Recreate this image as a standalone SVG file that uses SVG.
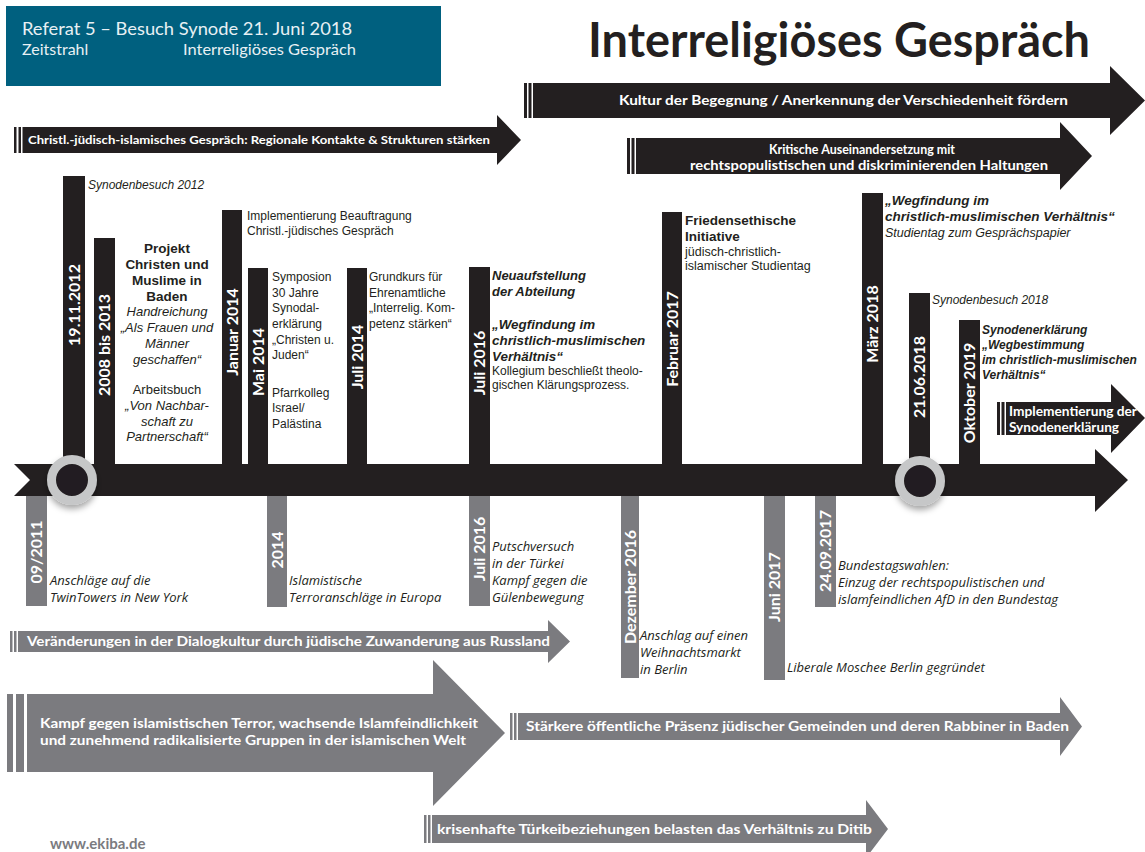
<svg xmlns="http://www.w3.org/2000/svg" width="1145" height="852" viewBox="0 0 1145 852">
<defs>
<style>
.blk{fill:#231f20}
.gry{fill:#7b7b7f}
.hum{font-family:Lato,"Open Sans",sans-serif}
.wb{font-family:Lato,"Open Sans",sans-serif;font-weight:700;fill:#fff}
.bl{font-family:Lato,"Open Sans",sans-serif;font-weight:700;fill:#fff;font-size:16px;text-anchor:middle}
.tx{font-family:"Liberation Sans",Arial,sans-serif;font-size:12px;fill:#231f20}
.ev{font-family:"Open Sans",Lato,sans-serif;font-style:italic;font-size:13px;fill:#231f20}
.i{font-style:italic}
.b{font-weight:700}
.mid{text-anchor:middle}
</style>
<filter id="sh" x="-50%" y="-50%" width="200%" height="200%">
<feDropShadow dx="0" dy="4" stdDeviation="3" flood-color="#000" flood-opacity="0.35"/>
</filter>
</defs>
<rect width="1145" height="852" fill="#fff"/>

<g id="header">
<rect x="6" y="6" width="435" height="80" fill="#00607f"/>
<text class="hum" x="22" y="35" font-size="18" fill="#e8f0f4" textLength="330" lengthAdjust="spacingAndGlyphs">Referat 5 – Besuch Synode 21. Juni 2018</text>
<text class="hum" x="22" y="55" font-size="16" fill="#e8f0f4">Zeitstrahl</text>
<text class="hum" x="183" y="55" font-size="16" fill="#e8f0f4" textLength="173" lengthAdjust="spacingAndGlyphs">Interreligiöses Gespräch</text>
</g>
<g id="title">
<text class="hum" x="588" y="57" font-size="48" font-weight="700" fill="#231f20" textLength="502" lengthAdjust="spacingAndGlyphs">Interreligiöses Gespräch</text>
</g>

<g id="connectors">
<path class="blk" d="M14 464 H1095 V449 L1128 480 L1095 512 V496 H14 L30 480 Z"/>
</g>

<g id="arrow-christl">
<rect class="blk" x="14" y="127" width="2.5" height="26"/>
<rect class="blk" x="18.5" y="127" width="2.5" height="26"/>
<path class="blk" d="M22.5 127 H497 V115 L521 140 L497 165 V153 H22.5 Z"/>
<text class="wb" x="28" y="144" font-size="12" textLength="462" lengthAdjust="spacingAndGlyphs">Christl.-jüdisch-islamisches Gespräch: Regionale Kontakte &amp; Strukturen stärken</text>
</g>
<g id="arrow-kultur">
<rect class="blk" x="524" y="83" width="3" height="35"/>
<rect class="blk" x="528.5" y="83" width="3" height="35"/>
<path class="blk" d="M533 83 H1110 V66 L1145 100.5 L1110 135 V118 H533 Z"/>
<text class="wb" x="619" y="105" font-size="13" textLength="449" lengthAdjust="spacingAndGlyphs">Kultur der Begegnung / Anerkennung der Verschiedenheit fördern</text>
</g>
<g id="arrow-kritisch">
<rect class="blk" x="627" y="138" width="3" height="36"/>
<rect class="blk" x="631.5" y="138" width="3" height="36"/>
<path class="blk" d="M636 138 H1060 V122 L1092 156 L1060 190 V174 H636 Z"/>
<text class="wb" x="862" y="154" font-size="13" text-anchor="middle" textLength="186" lengthAdjust="spacingAndGlyphs">Kritische Auseinandersetzung mit</text>
<text class="wb" x="869" y="170" font-size="13" text-anchor="middle" textLength="358" lengthAdjust="spacingAndGlyphs">rechtspopulistischen und diskriminierenden Haltungen</text>
</g>
<g id="arrow-implementierung">
<rect class="blk" x="997" y="402" width="3" height="33"/>
<rect class="blk" x="1001.5" y="402" width="3" height="33"/>
<path class="blk" d="M1006 402 H1111 V384 L1145 418 L1111 453 V435 H1006 Z"/>
<text class="wb" x="1009" y="416" font-size="13" textLength="128" lengthAdjust="spacingAndGlyphs">Implementierung der</text>
<text class="wb" x="1009" y="432" font-size="13" textLength="110" lengthAdjust="spacingAndGlyphs">Synodenerklärung</text>
</g>

<g id="n-2012">
<rect class="blk" x="63" y="176" width="22" height="290"/>
<text class="bl" transform="translate(80 305) rotate(-90)">19.11.2012</text>
<text class="tx i" x="88" y="189" font-size="13.5">Synodenbesuch 2012</text>
</g>
<g id="n-2008">
<rect class="blk" x="94" y="238" width="21" height="228"/>
<text class="bl" transform="translate(110 345) rotate(-90)">2008 bis 2013</text>
<g class="tx mid">
<text x="167" y="253" class="b" font-size="13.5">Projekt</text>
<text x="167" y="269" class="b" font-size="13.5">Christen und</text>
<text x="167" y="285" class="b" font-size="13.5">Muslime in</text>
<text x="167" y="301" class="b" font-size="13.5">Baden</text>
<text x="167" y="316" class="i" font-size="13">Handreichung</text>
<text x="167" y="332" class="i" font-size="13">„Als Frauen und</text>
<text x="167" y="348" class="i" font-size="13">Männer</text>
<text x="167" y="364" class="i" font-size="13">geschaffen“</text>
<text x="167" y="394" font-size="13">Arbeitsbuch</text>
<text x="167" y="410" class="i" font-size="13">„Von Nachbar-</text>
<text x="167" y="426" class="i" font-size="13">schaft zu</text>
<text x="167" y="441" class="i" font-size="13">Partnerschaft“</text>
</g>
</g>
<g id="n-jan2014">
<rect class="blk" x="222" y="210" width="20" height="256"/>
<text class="bl" transform="translate(238 332) rotate(-90)">Januar 2014</text>
<text class="tx" x="247" y="220">Implementierung Beauftragung</text>
<text class="tx" x="247" y="235">Christl.-jüdisches Gespräch</text>
</g>
<g id="n-mai2014">
<rect class="blk" x="248" y="268" width="20" height="198"/>
<text class="bl" transform="translate(264 362) rotate(-90)">Mai 2014</text>
<g class="tx" font-size="12.5">
<text x="272" y="281">Symposion</text>
<text x="272" y="297">30 Jahre</text>
<text x="272" y="312">Synodal-</text>
<text x="272" y="328">erklärung</text>
<text x="272" y="344">„Christen u.</text>
<text x="272" y="359">Juden“</text>
<text x="272" y="397">Pfarrkolleg</text>
<text x="272" y="412">Israel/</text>
<text x="272" y="428">Palästina</text>
</g>
</g>
<g id="n-juli2014">
<rect class="blk" x="347" y="268" width="20" height="198"/>
<text class="bl" transform="translate(363 357) rotate(-90)">Juli 2014</text>
<g class="tx" font-size="12.5">
<text x="369" y="281">Grundkurs für</text>
<text x="369" y="297">Ehrenamtliche</text>
<text x="369" y="312">„Interrelig. Kom-</text>
<text x="369" y="328">petenz stärken“</text>
</g>
</g>
<g id="n-juli2016">
<rect class="blk" x="469" y="267" width="21" height="199"/>
<text class="bl" transform="translate(485 363) rotate(-90)">Juli 2016</text>
<g class="tx">
<text x="492" y="280" class="b i" font-size="13">Neuaufstellung</text>
<text x="492" y="296" class="b i" font-size="13">der Abteilung</text>
<text x="492" y="329" class="b i" font-size="13.4">„Wegfindung im</text>
<text x="492" y="345" class="b i" font-size="13.4">christlich-muslimischen</text>
<text x="492" y="361" class="b i" font-size="13.4">Verhältnis“</text>
<text x="492" y="375">Kollegium beschließt theolo-</text>
<text x="492" y="389">gischen Klärungsprozess.</text>
</g>
</g>
<g id="n-feb2017">
<rect class="blk" x="662" y="212" width="20" height="254"/>
<text class="bl" transform="translate(678 339) rotate(-90)">Februar 2017</text>
<g class="tx">
<text x="685" y="225" class="b" font-size="13.5">Friedensethische</text>
<text x="685" y="241" class="b" font-size="13.5">Initiative</text>
<text x="685" y="256" font-size="12.5">jüdisch-christlich-</text>
<text x="685" y="270" font-size="12.5">islamischer Studientag</text>
</g>
</g>
<g id="n-maerz2018">
<rect class="blk" x="862" y="193" width="21" height="273"/>
<text class="bl" transform="translate(878 324) rotate(-90)">März 2018</text>
<g class="tx">
<text x="885" y="205" class="b i" font-size="13.5">„Wegfindung im</text>
<text x="885" y="221" class="b i" font-size="13.5">christlich-muslimischen Verhältnis“</text>
<text x="885" y="237" class="i" font-size="12.5">Studientag zum Gesprächspapier</text>
</g>
</g>
<g id="n-2018">
<rect class="blk" x="909" y="293" width="21" height="173"/>
<text class="bl" transform="translate(925 377) rotate(-90)">21.06.2018</text>
<text class="tx i" x="932" y="304" font-size="13.5">Synodenbesuch 2018</text>
</g>
<g id="n-okt2019">
<rect class="blk" x="959" y="320" width="21" height="146"/>
<text class="bl" transform="translate(975 393) rotate(-90)">Oktober 2019</text>
<g class="tx b i" font-size="12.8">
<text x="982" y="334">Synodenerklärung</text>
<text x="982" y="349">„Wegbestimmung</text>
<text x="982" y="364">im christlich-muslimischen</text>
<text x="982" y="379">Verhältnis“</text>
</g>
</g>

<g id="circle-2011" filter="url(#sh)">
<circle cx="72" cy="480" r="20.5" fill="#231f20" stroke="#c6c7c8" stroke-width="9"/>
</g>
<g id="circle-2018" filter="url(#sh)">
<circle cx="920" cy="481" r="20.5" fill="#231f20" stroke="#c6c7c8" stroke-width="9"/>
</g>

<g id="e-092011">
<rect class="gry" x="26" y="496" width="21" height="110"/>
<text class="bl" transform="translate(42 552) rotate(-90)">09/2011</text>
<text class="ev" x="50" y="585">Anschläge auf die</text>
<text class="ev" x="50" y="602">TwinTowers in New York</text>
</g>
<g id="e-2014">
<rect class="gry" x="267" y="496" width="20" height="111"/>
<text class="bl" transform="translate(283 550) rotate(-90)">2014</text>
<text class="ev" x="289" y="585">Islamistische</text>
<text class="ev" x="289" y="602">Terroranschläge in Europa</text>
</g>
<g id="e-juli2016">
<rect class="gry" x="469" y="496" width="21" height="110"/>
<text class="bl" transform="translate(485 549) rotate(-90)">Juli 2016</text>
<text class="ev" x="492" y="551">Putschversuch</text>
<text class="ev" x="492" y="568">in der Türkei</text>
<text class="ev" x="492" y="585">Kampf gegen die</text>
<text class="ev" x="492" y="602">Gülenbewegung</text>
</g>
<g id="e-dez2016">
<rect class="gry" x="621" y="496" width="18" height="182"/>
<text class="bl" transform="translate(636 587) rotate(-90)">Dezember 2016</text>
<text class="ev" x="640" y="640">Anschlag auf einen</text>
<text class="ev" x="640" y="657">Weihnachtsmarkt</text>
<text class="ev" x="640" y="674">in Berlin</text>
</g>
<g id="e-juni2017">
<rect class="gry" x="764" y="496" width="21" height="184"/>
<text class="bl" transform="translate(780 587) rotate(-90)">Juni 2017</text>
<text class="ev" x="787" y="672">Liberale Moschee Berlin gegründet</text>
</g>
<g id="e-092017">
<rect class="gry" x="815" y="496" width="21" height="111"/>
<text class="bl" transform="translate(831 551) rotate(-90)">24.09.2017</text>
<text class="ev" x="838" y="570">Bundestagswahlen:</text>
<text class="ev" x="838" y="587">Einzug der rechtspopulistischen und</text>
<text class="ev" x="838" y="604">islamfeindlichen AfD in den Bundestag</text>
</g>

<g id="arrow-veraenderungen">
<rect class="gry" x="10" y="631" width="2.5" height="21"/>
<rect class="gry" x="14" y="631" width="2.5" height="21"/>
<path class="gry" d="M18 631 H548 V620 L570 641.5 L548 663 V652 H18 Z"/>
<text class="wb" x="27" y="646" font-size="13" textLength="523" lengthAdjust="spacingAndGlyphs">Veränderungen in der Dialogkultur durch jüdische Zuwanderung aus Russland</text>
</g>
<g id="arrow-kampf">
<rect class="gry" x="7" y="694" width="6" height="78"/>
<rect class="gry" x="16" y="694" width="8" height="78"/>
<path class="gry" d="M27 694 H433 V660 L505 733 L433 806 V772 H27 Z"/>
<text class="wb" x="40" y="728" font-size="13" textLength="438" lengthAdjust="spacingAndGlyphs">Kampf gegen islamistischen Terror, wachsende Islamfeindlichkeit</text>
<text class="wb" x="40" y="745" font-size="13" textLength="426" lengthAdjust="spacingAndGlyphs">und zunehmend radikalisierte Gruppen in der islamischen Welt</text>
</g>
<g id="arrow-staerkere">
<rect class="gry" x="510" y="713" width="2.5" height="27"/>
<rect class="gry" x="514" y="713" width="2.5" height="27"/>
<path class="gry" d="M518 713 H1060 V697 L1082 726.5 L1060 756 V740 H518 Z"/>
<text class="wb" x="526" y="731" font-size="13" textLength="543" lengthAdjust="spacingAndGlyphs">Stärkere öffentliche Präsenz jüdischer Gemeinden und deren Rabbiner in Baden</text>
</g>
<g id="arrow-krisenhaft">
<rect class="gry" x="424" y="815" width="2.5" height="28"/>
<rect class="gry" x="428" y="815" width="2.5" height="28"/>
<path class="gry" d="M432 815 H866 V800 L888 829 L866 858 V843 H432 Z"/>
<text class="wb" x="437" y="834" font-size="13" textLength="435" lengthAdjust="spacingAndGlyphs">krisenhafte Türkeibeziehungen belasten das Verhältnis zu Ditib</text>
</g>

<g id="footer">
<text class="hum" x="50" y="849" font-size="15" font-weight="700" fill="#7b7b7f">www.ekiba.de</text>
</g>
</svg>
